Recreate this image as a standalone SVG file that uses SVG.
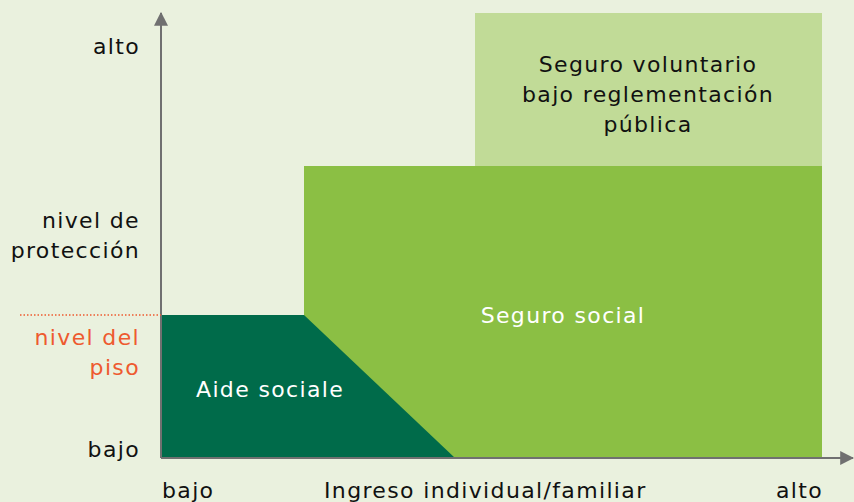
<svg xmlns="http://www.w3.org/2000/svg" width="854" height="502" viewBox="0 0 854 502">
<defs>
<style>
text{font-family:"DejaVu Sans","Noto Sans",sans-serif;font-size:22px;letter-spacing:1.35px;fill:#111}
.r{text-anchor:end}
.m{text-anchor:middle}
.w{fill:#fff}
.o{fill:#EE5A2F}
.ax{stroke:#707070;stroke-width:2;fill:none}
</style>
<marker id="ah2" viewBox="0 0 12 12" refX="11" refY="6" markerWidth="14" markerHeight="14" markerUnits="userSpaceOnUse" orient="auto">
<path d="M0,0 L12,6 L0,12 z" fill="#707070"/>
</marker>
</defs>
<rect width="854" height="502" fill="#EAF1DE"/>
<g id="voluntario">
<rect x="475" y="13" width="347" height="153" fill="#C1DB97"/>
<text class="m" x="648" y="72">Seguro voluntario</text>
<text class="m" x="648" y="102">bajo reglementación</text>
<text class="m" x="648" y="132">pública</text>
</g>
<g id="seguro-social">
<rect x="304" y="166" width="518" height="292" fill="#8BBF44"/>
<text class="m w" x="563" y="323">Seguro social</text>
</g>
<g id="aide-sociale">
<polygon points="161,315 304,315 455,458 161,458" fill="#006B4A"/>
<text class="w" x="196" y="397">Aide sociale</text>
</g>
<g id="connectors">
<line class="ax" x1="161" y1="458" x2="161" y2="13" marker-end="url(#ah2)"/>
<line class="ax" x1="161" y1="458" x2="853" y2="458" marker-end="url(#ah2)"/>
<line x1="20" y1="315" x2="161" y2="315" stroke="#EE5A2F" stroke-width="1.5" stroke-dasharray="1.5,2"/>
</g>
<g id="labels">
<text class="r" x="140" y="54">alto</text>
<text class="r" x="140" y="228">nivel de</text>
<text class="r" x="140" y="258">protección</text>
<text class="r o" x="140" y="345">nivel del</text>
<text class="r o" x="140" y="375">piso</text>
<text class="r" x="140" y="457">bajo</text>
<text x="162" y="498">bajo</text>
<text x="324" y="498">Ingreso individual/familiar</text>
<text class="r" x="823" y="498">alto</text>
</g>
</svg>
